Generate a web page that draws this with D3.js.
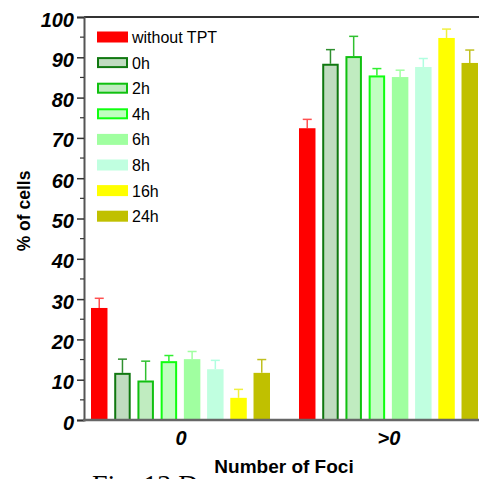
<!DOCTYPE html>
<html>
<head>
<meta charset="utf-8">
<script src="https://cdn.jsdelivr.net/npm/d3@7"></script>
<style>
  body { margin: 0; background: #fff; }
  svg { display: block; font-family: Arial, "Liberation Sans", sans-serif; }
</style>
</head>
<body>
<svg id="chart"></svg>
<script>
// data
const groups = ['0', '>0'];
const seriesNames = ['without TPT', '0h', '2h', '4h', '6h', '8h', '16h', '24h'];
const valuesZero = [27.8, 11.7, 9.8, 14.6, 15.1, 12.6, 5.5, 11.7];
const errorsZero = [2.4, 3.4, 4.8, 1.4, 1.9, 2.2, 2.1, 3.3];
const valuesMore = [72.4, 88.4, 90.3, 85.5, 85.1, 87.6, 94.8, 88.6];
const errorsMore = [2.2, 3.5, 4.9, 1.7, 1.7, 2.1, 2.2, 3.2];
const yTicks = [0, 10, 20, 30, 40, 50, 60, 70, 80, 90, 100];

const fills = ['#ff0000', '#c0dcc0', '#c0ecc0', '#c0ffc0', '#a0ffa0', '#c0ffe0', '#ffff00', '#c0c000'];
const strokes = [null, '#107810', '#10c010', '#10ff10', null, null, null, null];
const errColors = ['#ff5050', '#309030', '#30c030', '#30f030', '#a0ffa0', '#b0ffe0', '#f0f040', '#c0c020'];

const width = 479, height = 479;
const svg = d3.select('#chart').attr('width', width).attr('height', height);

const y = d3.scaleLinear().domain([0, 100]).range([420, 17]);
const x0 = d3.scaleBand().domain(groups).range([91, 507]);
const x1 = d3.scaleBand().domain(seriesNames).range([0, 179]).paddingInner(0.29);

const rows = [];
groups.forEach(function(g, gi) {
  const vals = gi === 0 ? valuesZero : valuesMore;
  const errs = gi === 0 ? errorsZero : errorsMore;
  seriesNames.forEach(function(s, i) {
    rows.push({group: g, series: s, i: i, value: vals[i], err: errs[i]});
  });
});

// error bars (upper only)
const eb = svg.append('g');
rows.forEach(function(d) {
  const cx = x0(d.group) + x1(d.series) + x1.bandwidth() / 2;
  eb.append('line')
    .attr('x1', cx).attr('x2', cx)
    .attr('y1', y(d.value)).attr('y2', y(d.value + d.err))
    .attr('stroke', errColors[d.i]).attr('stroke-width', 1.5);
  eb.append('line')
    .attr('x1', cx - 4.5).attr('x2', cx + 4.5)
    .attr('y1', y(d.value + d.err)).attr('y2', y(d.value + d.err))
    .attr('stroke', errColors[d.i]).attr('stroke-width', 1.5);
});

// bars
svg.append('g').selectAll('rect')
  .data(rows)
  .enter()
  .append('rect')
  .attr('x', d => x0(d.group) + x1(d.series) + (strokes[d.i] ? 1 : 0))
  .attr('y', d => y(d.value) + (strokes[d.i] ? 1 : 0))
  .attr('width', d => x1.bandwidth() - (strokes[d.i] ? 2 : 0))
  .attr('height', d => y(0) - y(d.value) - (strokes[d.i] ? 1 : 0))
  .attr('fill', d => fills[d.i])
  .attr('stroke', d => strokes[d.i] || 'none')
  .attr('stroke-width', 2);

// frame line on top
svg.append('line').attr('x1', 84).attr('x2', width).attr('y1', 17).attr('y2', 17)
  .attr('stroke', '#333').attr('stroke-width', 2);

// y axis
const yAxis = svg.append('g').attr('transform', 'translate(84,0)')
  .call(d3.axisLeft(y).tickValues(yTicks).tickSize(7).tickPadding(3));
yAxis.select('.domain').attr('stroke', '#555').attr('stroke-width', 2);
yAxis.selectAll('.tick line').attr('stroke', '#333').attr('stroke-width', 1.5);
yAxis.selectAll('.tick text')
  .attr('fill', '#000')
  .style('font-size', '20px').style('font-weight', 'bold').style('font-style', 'italic')
  .attr('dy', '0.45em');
// minor ticks
svg.append('g').selectAll('line')
  .data(d3.range(5, 100, 10))
  .enter().append('line')
  .attr('x1', 80).attr('x2', 84)
  .attr('y1', d => y(d)).attr('y2', d => y(d))
  .attr('stroke', '#333').attr('stroke-width', 1.2);

// x axis line
svg.append('line').attr('x1', 83).attr('x2', width).attr('y1', 420).attr('y2', 420)
  .attr('stroke', '#666').attr('stroke-width', 2.5);

// group labels
svg.append('g').selectAll('text')
  .data(groups)
  .enter().append('text')
  .attr('x', d => x0(d) + 90)
  .attr('y', 445)
  .attr('text-anchor', 'middle')
  .style('font-size', '20px').style('font-weight', 'bold').style('font-style', 'italic')
  .text(d => d);

// axis titles
svg.append('text')
  .attr('x', 284).attr('y', 473)
  .attr('text-anchor', 'middle')
  .style('font-size', '19px').style('font-weight', 'bold')
  .text('Number of Foci');
svg.append('text')
  .attr('transform', 'translate(30,211) rotate(-90)')
  .attr('text-anchor', 'middle')
  .style('font-size', '17.5px').style('font-weight', 'bold')
  .text('% of cells');

// caption cut off at the bottom
svg.append('text')
  .attr('x', 92).attr('y', 494)
  .style('font-family', '"Liberation Serif", "Times New Roman", serif')
  .style('font-size', '28px')
  .text('Fig. 13 D');

// legend
const legend = svg.append('g');
seriesNames.forEach(function(s, i) {
  const cy = 37 + i * 25.6;
  legend.append('rect')
    .attr('x', 97 + (strokes[i] ? 1 : 0)).attr('y', cy - 5.5 + (strokes[i] ? 1 : 0))
    .attr('width', 31 - (strokes[i] ? 2 : 0)).attr('height', 11 - (strokes[i] ? 2 : 0))
    .attr('fill', fills[i])
    .attr('stroke', strokes[i] || 'none').attr('stroke-width', 2);
  legend.append('text')
    .attr('x', 132).attr('y', cy + 6)
    .style('font-size', '16px')
    .text(s);
});
</script>
</body>
</html>
